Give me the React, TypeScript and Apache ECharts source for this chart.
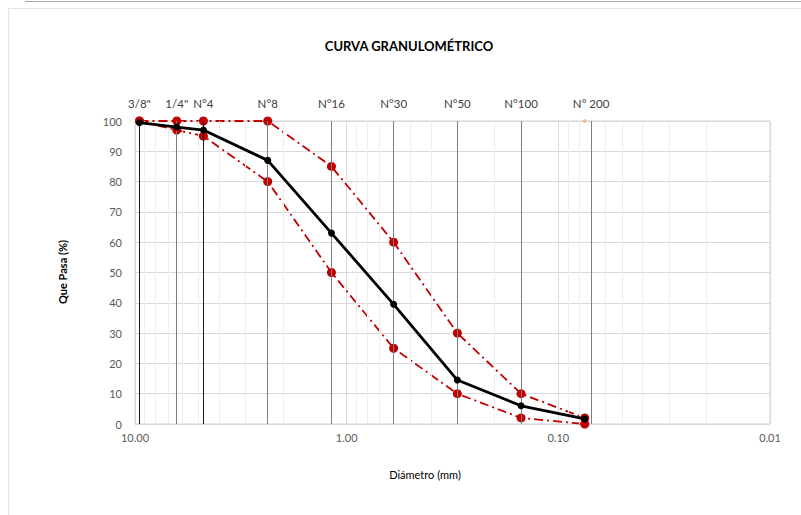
import React, { useEffect, useRef } from "react";
import * as echarts from "echarts";

const sieveLabels = ['3/8"', '1/4"', "N°4", "N°8", "N°16", "N°30", "N°50", "N°100", "N° 200"];
const sieveSizes = [9.525, 6.35, 4.75, 2.36, 1.18, 0.6, 0.3, 0.15, 0.075];
const muestra = [99.5, 98, 97, 87, 63, 39.5, 14.5, 6, 1.7];
const limiteSuperior = [100, 100, 100, 100, 85, 60, 30, 10, 2];
const limiteInferior = [100, 97, 95, 80, 50, 25, 10, 2, 0];
const decades = [0.01, 0.1, 1];
const minorMultipliers = [2, 3, 4, 5, 6, 7, 8, 9];

const FONT = "Lato, 'Open Sans', sans-serif";

export default function App() {
  const ref = useRef<HTMLDivElement>(null);
  useEffect(() => {
    if (!ref.current) return;
    const chart = echarts.init(ref.current, null, { renderer: "svg" });
    const pairs = (ys: number[]) => sieveSizes.map((x, i) => [x, ys[i]]);
    const minorValues: number[] = [];
    decades.forEach((d) => minorMultipliers.forEach((m) => minorValues.push(+(d * m).toPrecision(3))));
    const darkIdx = [0, 2];
    const redDash = [9, 4, 2, 4];

    chart.setOption({
      animation: false,
      backgroundColor: "#ffffff",
      grid: { left: 135, right: 31, top: 121, bottom: 91, show: true, borderColor: "#d0d0d0", borderWidth: 1, containLabel: false },
      xAxis: {
        type: "log",
        logBase: 10,
        min: 0.01,
        max: 10,
        inverse: true,
        axisLine: { show: false },
        axisTick: { show: false },
        splitLine: { show: true, lineStyle: { color: "#d9d9d9", width: 1 } },
        axisLabel: {
          color: "#595959",
          fontFamily: FONT,
          fontSize: 11,
          margin: 8,
          showMinLabel: true,
          showMaxLabel: true,
          formatter: (v: number) => v.toFixed(2),
        },
      },
      yAxis: {
        type: "value",
        min: 0,
        max: 100,
        interval: 10,
        axisLine: { show: false },
        axisTick: { show: false },
        splitLine: { show: true, lineStyle: { color: "#d9d9d9", width: 1 } },
        axisLabel: { color: "#595959", fontFamily: FONT, fontSize: 11, margin: 13 },
      },
      graphic: [
        { type: "rect", shape: { x: 8.5, y: 8.5, width: 800, height: 510 }, style: { fill: "none", stroke: "#e3e3e3", lineWidth: 1 }, silent: true },
        { type: "line", shape: { x1: 25, y1: 1.5, x2: 801, y2: 1.5 }, style: { stroke: "#a6a6a6", lineWidth: 1 }, silent: true },
        {
          type: "text",
          x: 409,
          y: 46,
          style: { text: "CURVA GRANULOMÉTRICO", fill: "#000000", font: `bold 13px ${FONT}`, textAlign: "center", textVerticalAlign: "middle" },
        },
        {
          type: "text",
          x: 425,
          y: 474,
          style: { text: "Diámetro (mm)", fill: "#000000", font: `11px ${FONT}`, textAlign: "center", textVerticalAlign: "middle" },
        },
        {
          type: "text",
          x: 62,
          y: 272,
          rotation: Math.PI / 2,
          style: { text: "Que Pasa (%)", fill: "#000000", font: `bold 11px ${FONT}`, textAlign: "center", textVerticalAlign: "middle" },
        },
      ],
      series: [
        {
          name: "minor",
          type: "line",
          data: [],
          silent: true,
          z: 1,
          markLine: {
            silent: true,
            symbol: ["none", "none"],
            label: { show: false },
            lineStyle: { color: "#ededed", width: 1, type: "solid" },
            data: minorValues.map((v) => ({ xAxis: v })),
          },
        },
        {
          name: "tamices",
          type: "line",
          data: [],
          silent: true,
          z: 2,
          markLine: {
            silent: true,
            symbol: ["none", "none"],
            label: {
              show: true,
              position: "end",
              formatter: "{b}",
              color: "#404040",
              fontFamily: FONT,
              fontSize: 11.5,
              distance: 12,
            },
            data: sieveSizes.map((x, i) => ({
              xAxis: x,
              name: sieveLabels[i],
              lineStyle: { color: darkIdx.includes(i) ? "#1a1a1a" : "#7f7f7f", width: 1, type: "solid" },
            })),
          },
        },
        {
          name: "marca",
          type: "scatter",
          data: [[sieveSizes[8], 100]],
          symbolSize: 4,
          itemStyle: { color: "#f4b183" },
          z: 3,
        },
        {
          name: "Límite superior",
          type: "line",
          data: pairs(limiteSuperior),
          symbol: "circle",
          symbolSize: 9,
          lineStyle: { color: "#c00000", width: 1.8, type: redDash },
          itemStyle: { color: "#c00000" },
          z: 4,
        },
        {
          name: "Límite inferior",
          type: "line",
          data: pairs(limiteInferior),
          symbol: "circle",
          symbolSize: 9,
          lineStyle: { color: "#c00000", width: 1.8, type: redDash },
          itemStyle: { color: "#c00000" },
          z: 4,
        },
        {
          name: "Muestra",
          type: "line",
          data: pairs(muestra),
          symbol: "circle",
          symbolSize: 7,
          lineStyle: { color: "#000000", width: 2.8 },
          itemStyle: { color: "#000000" },
          z: 5,
        },
      ],
    });
    return () => chart.dispose();
  }, []);
  return <div ref={ref} style={{ position: "absolute", left: 0, top: 0, width: 801, height: 515 }} />;
}
